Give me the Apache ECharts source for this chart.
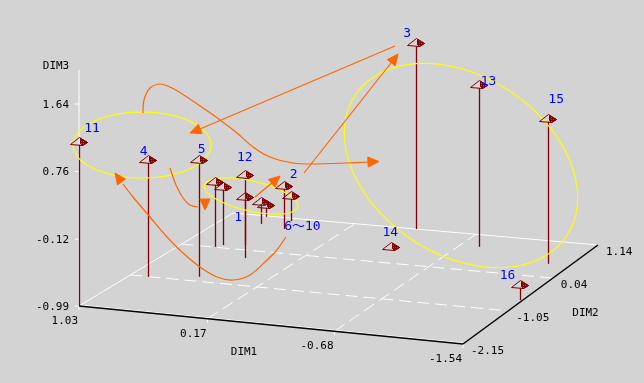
<!DOCTYPE html>
<html><head><meta charset="utf-8">
<script src="https://cdn.jsdelivr.net/npm/echarts@6/dist/echarts.min.js"></script>
<style>html,body{margin:0;padding:0;background:#d3d3d3}#c{width:644px;height:383px}</style>
</head><body><div id="c"></div>
<script>
// ---------------- data ----------------
const pointIds   = ['1','2','3','4','5','6','7','8','9','10','11','12','13','14','15','16'];
const pointLabels= ['1','2','3','4','5','','','','','6\u301c10','11','12','13','14','15','16'];
const dim1 = [0.51, 0.56, -0.26, 0.91, 0.61, 0.80, 0.77, 0.75, 0.79, 0.59, 1.03, 0.64, -0.81, -0.30, -1.39, -1.52];
const dim2 = [-0.21, 0.79, 1.14, -1.06, -0.91, 0.05, 0.13, 0.88, 1.11, 1.05, -2.15, 0.19, 0.77, 0.44, 0.45, -0.70];
const dim3 = [-0.23, -0.47, 1.39, 0.49, 0.49, -0.18, -0.27, -0.74, -0.87, -0.70, 1.11, -0.12, 1.08, -0.99, 0.86, -0.83];
const dim1Ticks = ['1.03','0.17','-0.68','-1.54'];
const dim2Ticks = ['-2.15','-1.05','0.04','1.14'];
const dim3Ticks = ['-0.99','-0.12','0.76','1.64'];
const axisNames = ['DIM1','DIM2','DIM3'];

// ---------------- layout (screen geometry of the 3D box) ----------------
const CORNER_A = [79,306], CORNER_B = [463,344], CORNER_C = [598,245], CORNER_D = [233,213];
const Z_PX = 202;
const labelOffsets = [[-7,18],[10,-14],[-9,-13],[-4,-12],[3,-13],[0,0],[0,0],[0,0],[0,0],[11,28],[13,-16],[0,-21],[10,-6],[-1,-17],[8,-22],[-12,-12]];
// annotations (screen space): ellipses and arrows
const ellipses = [
  {cx:142, cy:145, a:69, b:33, rot:0},
  {cx:251, cy:196, a:48, b:15, rot:13},
  {cx:461, cy:165.5, a:127, b:89, rot:33.6}
];
const arrows = [
  {pts:[[143,113],[144,100],[150,88],[160,84],[172,88],[187,97],[203,108],[220,120],[237,133],[253,147],[270,157],[293,163],[313,164],[347,163],[369,162]], head:[379,161.5,369,162]},
  {pts:[[395,46],[200,129]], head:[190,133,200,129]},
  {pts:[[304,173],[391,63]], head:[398,54,391,63]},
  {pts:[[170,168],[176,185],[183,198],[190,205],[198,207]], head:[205,210,205,201]},
  {pts:[[286,237],[276,251],[267,260],[250,275],[233,280],[217,277],[200,267],[183,253],[167,237],[150,217],[133,197],[123,184]], head:[115,173,123,184]},
  {pts:[[255,197],[272,183]], head:[280,176,272,183]}
];

const D1 = [Number(dim1Ticks[0]), Number(dim1Ticks[3])];
const D2 = [Number(dim2Ticks[0]), Number(dim2Ticks[3])];
const D3 = [Number(dim3Ticks[0]), Number(dim3Ticks[3])];
const D3_TOP = D3[1] + (D3[1]-D3[0])/6;

function project(d1, d2, d3){
  const u = (D1[0]-d1)/(D1[0]-D1[1]);
  const v = (d2-D2[0])/(D2[1]-D2[0]);
  const A=CORNER_A,B=CORNER_B,C=CORNER_C,D=CORNER_D;
  const x = A[0] + u*(B[0]-A[0]) + v*(D[0]-A[0]) + u*v*(C[0]-B[0]-D[0]+A[0]);
  const y = A[1] + u*(B[1]-A[1]) + v*(D[1]-A[1]) + u*v*(C[1]-B[1]-D[1]+A[1]);
  const h = (d3-D3[0])/(D3[1]-D3[0])*Z_PX;
  return [x, y-h];
}

// frame segments: kind 0 solid white, 1 dashed white, 2 black
const segs = [];
const t1 = dim1Ticks.map(Number), t2 = dim2Ticks.map(Number), t3 = dim3Ticks.map(Number);
[t1[1], t1[2]].forEach(d => segs.push([...project(d,D2[0],D3[0]), ...project(d,D2[1],D3[0]), 1]));
[t2[1], t2[2]].forEach(d => segs.push([...project(D1[0],d,D3[0]), ...project(D1[1],d,D3[0]), 1]));
segs.push([...project(D1[0],D2[0],D3[0]), ...project(D1[0],D2[1],D3[0]), 0]);
segs.push([...project(D1[0],D2[1],D3[0]), ...project(D1[1],D2[1],D3[0]), 0]);
segs.push([...project(D1[0],D2[0],D3[0]), ...project(D1[0],D2[0],D3_TOP), 0]);
t3.forEach(d => { const p = project(D1[0],D2[0],d); segs.push([p[0]-4,p[1],p[0],p[1],0]); });
t1.forEach(d => { const p = project(d,D2[0],D3[0]); segs.push([p[0],p[1],p[0],p[1]+4,0]); });
{ const a = project(D1[0],D2[0],D3[0]), b = project(D1[1],D2[0],D3[0]); segs.push([a[0],a[1]-1,b[0],b[1]-1,0]); }
segs.push([...project(D1[0],D2[0],D3[0]), ...project(D1[1],D2[0],D3[0]), 2]);
segs.push([...project(D1[1],D2[0],D3[0]), ...project(D1[1],D2[1],D3[0]), 2]);

// axis texts
const axisTextSpecs = [];
t3.forEach((d,i) => { const p = project(D1[0],D2[0],d); axisTextSpecs.push({p:[p[0]-10,p[1]+1], text:dim3Ticks[i], align:'right'}); });
t1.forEach((d,i) => { const p = project(d,D2[0],D3[0]); axisTextSpecs.push({p:[p[0]-1,p[1]+15], text:dim1Ticks[i], align:'right'}); });
t2.forEach((d,i) => { const p = project(D1[1],d,D3[0]); axisTextSpecs.push({p:[p[0]+8,p[1]+7], text:dim2Ticks[i], align:'left'}); });
{ const p = project(D1[0],D2[0],D3_TOP); axisTextSpecs.push({p:[p[0]-23,p[1]-4], text:axisNames[2], align:'center'}); }
{ const a = project(D1[0],D2[0],D3[0]), b = project(D1[1],D2[0],D3[0]); axisTextSpecs.push({p:[(a[0]+b[0])/2-27,(a[1]+b[1])/2+27], text:axisNames[0], align:'center'}); }
{ const a = project(D1[1],D2[0],D3[0]), b = project(D1[1],D2[1],D3[0]); axisTextSpecs.push({p:[(a[0]+b[0])/2+55,(a[1]+b[1])/2+19], text:axisNames[1], align:'center'}); }

const stemData = pointIds.map((_,i) => [...project(dim1[i],dim2[i],D3[0]), ...project(dim1[i],dim2[i],dim3[i])]);
const markerData = pointIds.map((_,i) => [...project(dim1[i],dim2[i],dim3[i]), i]);

const MAROON = '#800000';
const px = v => Math.round(v) + 0.5;

// hatch pattern for the shaded face of the markers
const hatch = document.createElement('canvas');
hatch.width = 2; hatch.height = 2;
{ const g = hatch.getContext('2d'); g.fillStyle = MAROON; g.fillRect(0,0,2,2); g.fillStyle = '#a84848'; g.fillRect(1,1,1,1); }

const option = {
  backgroundColor: '#d3d3d3',
  animation: false,
  grid: {left:0,right:0,top:0,bottom:0},
  xAxis: {type:'value', min:0, max:644, show:false},
  yAxis: {type:'value', min:0, max:383, inverse:true, show:false},
  series: [
    { type:'custom', silent:true, data: segs,
      renderItem: (p, api) => {
        const a = api.coord([api.value(0), api.value(1)]);
        const b = api.coord([api.value(2), api.value(3)]);
        const k = api.value(4);
        return {type:'line', shape:{x1:a[0],y1:a[1],x2:b[0],y2:b[1]},
          style:{stroke: k===2 ? '#000000' : '#ffffff', lineWidth: k===2 ? 1.5 : 1, lineDash: k===1 ? [12,6] : null}};
      }},
    { type:'custom', silent:true, data: stemData,
      renderItem: (p, api) => {
        const a = api.coord([api.value(0), api.value(1)]);
        const b = api.coord([api.value(2), api.value(3)]);
        return {type:'line', shape:{x1:px(a[0]),y1:a[1],x2:px(b[0]),y2:b[1]}, style:{stroke:MAROON, lineWidth:1.3}};
      }},
    { type:'custom', silent:true, data: ellipses.map((e,i)=>[e.cx,e.cy,i]),
      renderItem: (p, api) => {
        const e = ellipses[api.value(2)];
        const th = e.rot*Math.PI/180, pts = [];
        for (let k=0;k<120;k++){
          const t = k/120*2*Math.PI;
          const x = e.cx + e.a*Math.cos(t)*Math.cos(th) - e.b*Math.sin(t)*Math.sin(th);
          const y = e.cy + e.a*Math.cos(t)*Math.sin(th) + e.b*Math.sin(t)*Math.cos(th);
          pts.push(api.coord([x,y]));
        }
        return {type:'polygon', shape:{points:pts}, style:{fill:null, stroke:'#ffff00', lineWidth:1.2}};
      }},
    { type:'custom', silent:true, data: markerData,
      renderItem: (p, api) => {
        const c = api.coord([api.value(0), api.value(1)]);
        const X = px(c[0]), Y = Math.round(c[1]) + 0.5;
        return {type:'group', children:[
          {type:'polygon', shape:{points:[[X-9,Y-1],[X,Y-8],[X+8,Y-3],[X+3,Y]]}, style:{fill:'rgba(255,255,255,0.08)', stroke:MAROON, lineWidth:1}},
          {type:'polygon', shape:{points:[[X+1,Y-7],[X+8,Y-3],[X+3,Y],[X+1,Y-2]]}, style:{fill:{image:hatch, repeat:'repeat'}, stroke:MAROON, lineWidth:1}}
        ]};
      }},
    { type:'custom', silent:true, data: arrows.map((a,i)=>[a.pts[0][0],a.pts[0][1],i]),
      renderItem: (p, api) => {
        const ar = arrows[api.value(2)];
        const pts = ar.pts.map(q => api.coord(q));
        const tip = api.coord([ar.head[0], ar.head[1]]), back = api.coord([ar.head[2], ar.head[3]]);
        let dx = tip[0]-back[0], dy = tip[1]-back[1];
        const L = Math.hypot(dx,dy); dx/=L; dy/=L;
        const len = 11, w = 5;
        const bx = tip[0]-dx*len, by = tip[1]-dy*len;
        return {type:'group', children:[
          {type:'polyline', shape:{points:pts, smooth:0.3}, style:{fill:null, stroke:'#ff6600', lineWidth:1.2}},
          {type:'polygon', shape:{points:[tip,[bx-dy*w,by+dx*w],[bx+dy*w,by-dx*w]]}, style:{fill:'#ff6600', stroke:'#ff6600', lineWidth:1}}
        ]};
      }},
    { type:'custom', silent:true, data: markerData,
      renderItem: (p, api) => {
        const i = api.value(2);
        const t = pointLabels[i];
        if (!t) return null;
        const c = api.coord([api.value(0), api.value(1)]);
        const o = labelOffsets[i];
        return {type:'text', x:c[0]+o[0], y:c[1]+o[1], style:{text:t, fill:'#0000ff', font:'13px "DejaVu Sans Mono", "Noto Sans CJK JP"', align:'center', verticalAlign:'middle'}};
      }},
    { type:'custom', silent:true, data: axisTextSpecs.map((s,i)=>[s.p[0],s.p[1],i]),
      renderItem: (p, api) => {
        const s = axisTextSpecs[api.value(2)];
        const c = api.coord([api.value(0), api.value(1)]);
        return {type:'text', x:c[0], y:c[1], style:{text:s.text, fill:'#000000', font:'11px "DejaVu Sans Mono"', align:s.align, verticalAlign:'middle'}};
      }}
  ]
};
const chart = echarts.init(document.getElementById('c'), null, {width:644, height:383});
chart.setOption(option);
</script></body></html>
